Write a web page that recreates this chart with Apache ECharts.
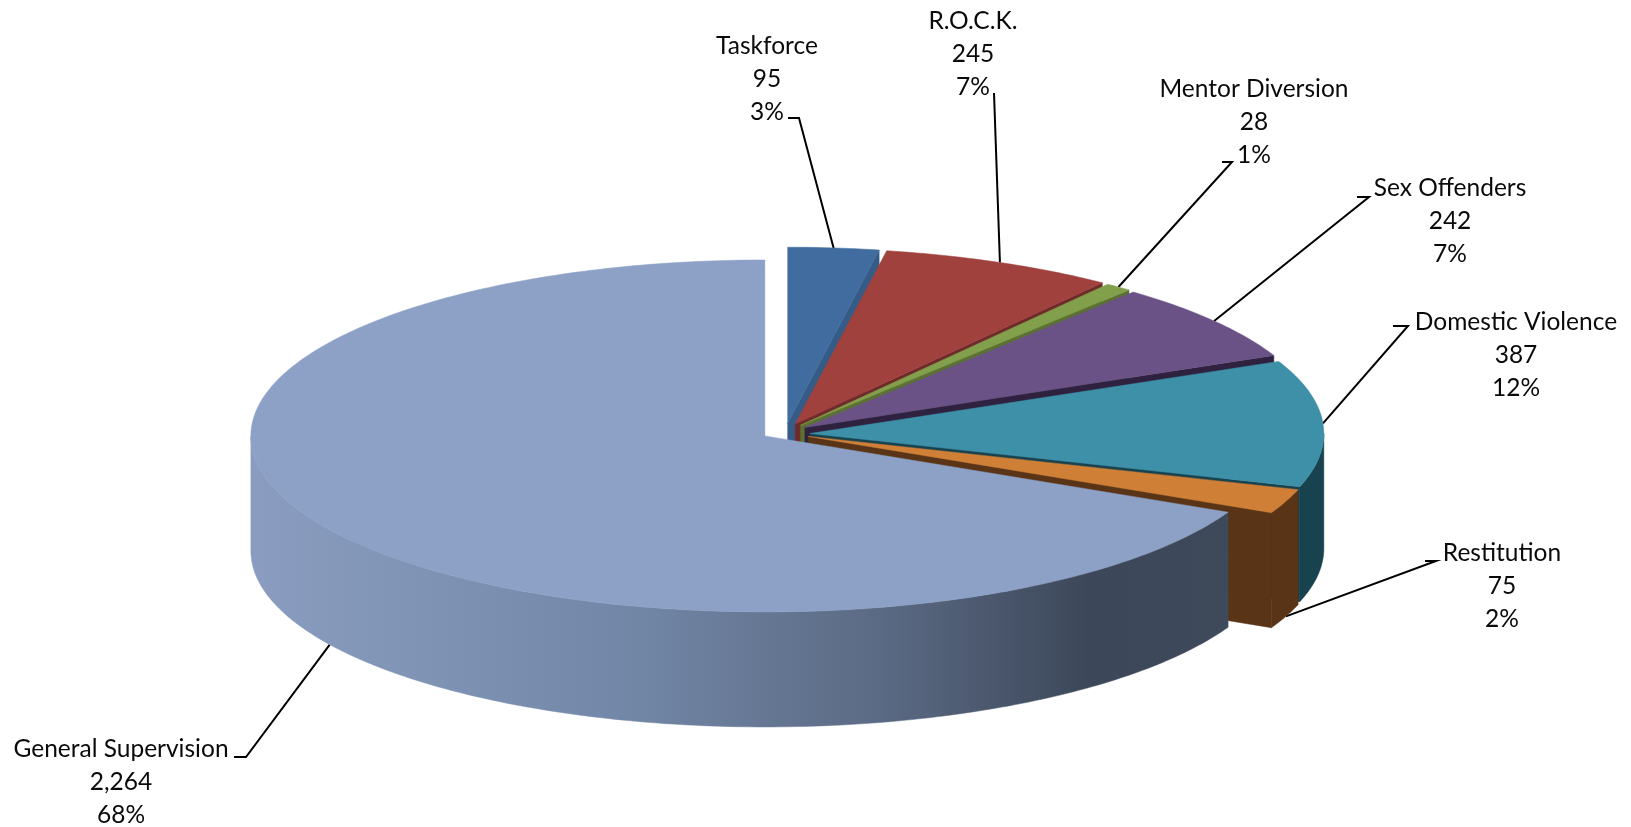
<!DOCTYPE html>
<html><head><meta charset="utf-8">
<style>html,body{margin:0;padding:0;background:#fff}#c{width:1631px;height:827px}</style>
<script src="https://cdn.jsdelivr.net/npm/echarts@6/dist/echarts.min.js"></script>
</head><body><div id="c"></div>
<script>
var categories = ['Taskforce','R.O.C.K.','Mentor Diversion','Sex Offenders','Domestic Violence','Restitution','General Supervision'];
var values = [95,245,28,242,387,75,2264];
var topColors = ['#406c9f','#a0413d','#82a04b','#6a5287','#3e90a8','#d07f37','#8da1c6'];
var wallColors = ['#355b87','#6f2b2a','#5b7134','#2e2240','#17424e','#5a3416','#3a4557'];
var labelCenters = [[767,46],[973,21],[1254,89],[1450,188],[1516,322],[1502,553],[121,749]];
var leaderElbows = [[[788,118],[799,118]],[[994,93]],[[1222,162],[1232,162]],[[1357,197],[1369,197]],[[1393,326],[1408,326]],[[1425,561],[1436,561]],[[234,757],[246,757]]];

var cx=785.5, cy=431.5, rx=514, ry=176, depth=115, explode=0.0474, sag=2.5, lineH=33;
var total=values.reduce(function(a,b){return a+b},0);
var acc=0, slices=values.map(function(v){var s=acc; acc+=v/total*Math.PI*2; return {start:s,end:acc,mid:(s+acc)/2};});
function pt(c,a,dy){return [c[0]+rx*Math.sin(a), c[1]-ry*Math.cos(a)+(dy||0)];}
function arc(c,a,b,dy){var n=Math.max(2,Math.ceil(Math.abs(b-a)/0.015)),r=[];for(var i=0;i<=n;i++)r.push(pt(c,a+(b-a)*i/n,dy));return r;}
function center(s){var q=Math.max(0,Math.sin(s.mid));return [cx+explode*rx*Math.sin(s.mid), cy-explode*ry*Math.cos(s.mid)+sag*q*q*q*q];}
function poly(points,fill){return {type:'polygon',shape:{points:points},style:{fill:fill,stroke:fill,lineWidth:0.5}};}

var wallGrad={type:'linear',global:true,x:cx-rx-20,y:0,x2:cx+rx,y2:0,colorStops:[
 {offset:0,color:'#8a9dc0'},{offset:0.35,color:'#7388a8'},{offset:0.6,color:'#5b6a84'},{offset:0.8,color:'#3c4759'},{offset:1,color:'#3f4a5b'}]};

function renderSlice(p,api){
 var i=api.value(0), s=slices[i], c=center(s), kids=[];
 var HALF=Math.PI/2;
 if(s.end<Math.PI){var e=pt(c,s.end);kids.push(poly([c,e,[e[0],e[1]+depth],[c[0],c[1]+depth]],wallColors[i]));}
 var a=Math.max(s.start,HALF), b=Math.min(s.end,Math.PI*1.5);
 if(b>a){kids.push(poly(arc(c,a,b,0).concat(arc(c,b,a,depth)), i===6?wallGrad:wallColors[i]));}
 kids.push(poly([c].concat(arc(c,s.start,s.end,0)),topColors[i]));
 return {type:'group',children:kids};
}
function renderLabel(p,api){
 var i=api.value(0), s=slices[i], c=center(s);
 var a=pt(c,s.mid,(s.mid>Math.PI/2+0.2)?depth:0);
 var pts=leaderElbows[i].concat([a]);
 var lc=labelCenters[i];
 var txt=[categories[i],values[i].toLocaleString('en-US'),Math.round(values[i]/total*100)+'%'];
 var kids=[{type:'polyline',shape:{points:pts},style:{stroke:'#000',lineWidth:2,fill:null}}];
 txt.forEach(function(t,k){kids.push({type:'text',x:lc[0],y:lc[1]+k*lineH,style:{text:t,fill:'#0a0a0a',font:'24.5px Lato',align:'center',verticalAlign:'middle'}});});
 return {type:'group',children:kids};
}
var idx=values.map(function(v,i){return [i];});
var chart=echarts.init(document.getElementById('c'),null,{renderer:'canvas'});
chart.setOption({animation:false,backgroundColor:'#fff',series:[
 {type:'custom',coordinateSystem:'none',data:idx,renderItem:renderLabel,silent:true,z:1},
 {type:'custom',coordinateSystem:'none',data:idx,renderItem:renderSlice,silent:true,z:2}
]});
</script></body></html>
